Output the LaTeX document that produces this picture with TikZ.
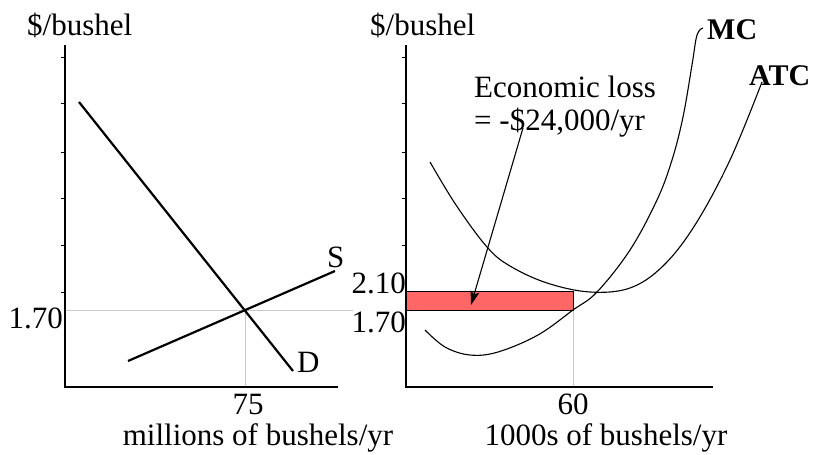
\documentclass[tikz,border=0pt]{standalone}
\usepackage{fontspec}
\setmainfont{Liberation Serif}
\usetikzlibrary{arrows.meta}
\definecolor{lossred}{RGB}{255,102,102}
\definecolor{guide}{RGB}{200,200,200}
\begin{document}
\begin{tikzpicture}[x=1pt,y=-1pt,
  lbl/.style={inner sep=0pt,font=\fontsize{31}{36}\selectfont},
  blbl/.style={inner sep=0pt,font=\fontsize{30}{36}\selectfont\bfseries},
  axisline/.style={line width=1.4pt},
  tick/.style={line width=0.8pt},
  guideline/.style={guide,line width=0.8pt},
  sdline/.style={line width=2.2pt},
  costcurve/.style={line width=1.1pt},
  lossbox/.style={fill=lossred,draw=black,line width=1pt}]
\useasboundingbox (0,0) rectangle (814,455);
% ---------- left panel ----------
\coordinate (LO) at (65,387);
\coordinate (LT) at (65,45);
\coordinate (LR) at (338,387);
\coordinate (E1) at (245,310);
\coordinate (EL) at (65,310);
\coordinate (ER) at (353,310);
\coordinate (E1b) at (245,387);
\draw[guideline] (EL) -- (ER);
\draw[guideline] (E1) -- (E1b);
\draw[axisline] (LT) -- (LO) -- (LR);
\foreach \y in {57,103,152,198,245,292} \draw[tick] (61,\y) -- (65,\y);
\coordinate (D1) at (79,102);
\coordinate (D2) at (293,371);
\coordinate (S1) at (128,361);
\coordinate (S2) at (335,271);
\draw[sdline] (D1) -- (D2);
\draw[sdline] (S1) -- (S2);
\node[lbl,anchor=base west] (ylabL) at (27,35) {\$/bushel};
\node[lbl,anchor=base east] (p170L) at (63,328) {1.70};
\node[lbl,anchor=base] (q75) at (248,414) {75};
\node[lbl,anchor=base] (xlabL) at (258,445) {millions of bushels/yr};
\node[lbl,anchor=base west] (Slab) at (327,267) {S};
\node[lbl,anchor=base west] (Dlab) at (297,372) {D};
% ---------- right panel ----------
\coordinate (RO) at (406,387);
\coordinate (RT) at (406,45);
\coordinate (RR) at (713,387);
\coordinate (Q60) at (573,310);
\coordinate (Q60b) at (573,387);
\draw[guideline] (Q60) -- (Q60b);
\node[lossbox,anchor=north west,minimum width=167pt,minimum height=19pt,inner sep=0pt] (loss) at (406,291) {};
\draw[axisline] (RT) -- (RO) -- (RR);
\foreach \y in {57,103,152,198,245} \draw[tick] (402,\y) -- (406,\y);
\draw[costcurve] plot[smooth,tension=0.6] coordinates {(430,162) (456,205) (487,247) (510,266) (547,283) (590,292) (630,288) (663,266) (695,225) (730,160) (762,82)};
\draw[costcurve] plot[smooth,tension=0.6] coordinates {(425,330) (445,347) (470,355) (498,352) (538,335) (573,310) (597,292) (630,250) (657,200) (672,160) (683,117) (692,65) (697,35) (703,28)};
\node[lbl,anchor=base west] (ylabR) at (370,35) {\$/bushel};
\node[lbl,anchor=base east] (p210R) at (406,293) {2.10};
\node[lbl,anchor=base east] (p170R) at (406,332) {1.70};
\node[lbl,anchor=base] (q60) at (573,414) {60};
\node[lbl,anchor=base] (xlabR) at (606,445) {1000s of bushels/yr};
\node[lbl,anchor=base west] (eloss1) at (474,97) {Economic loss};
\node[lbl,anchor=base west] (eloss2) at (474,130) {= -\$24,000/yr};
\node[blbl,anchor=base west] (MClab) at (707,39) {MC};
\node[blbl,anchor=base west] (ATClab) at (749,85) {ATC};
\coordinate (arrS) at (523,128);
\coordinate (arrE) at (471,305);
\draw[line width=1.1pt,-{Stealth[length=14pt,width=9pt,inset=3pt]}] (arrS) -- (arrE);
\end{tikzpicture}
\end{document}
